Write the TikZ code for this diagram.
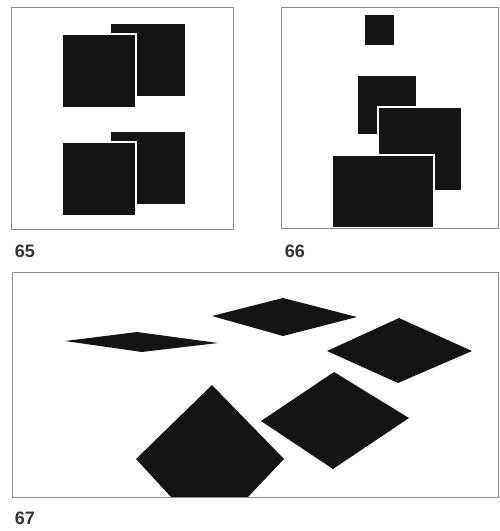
\documentclass[tikz,border=0pt]{standalone}
\usepackage{fontspec}
\setmainfont{Liberation Sans}
\definecolor{ink}{HTML}{141414}
\begin{document}
\begin{tikzpicture}[x=1pt,y=-1pt,
  frame/.style={draw=black!45,line width=0.9pt},
  blk/.style={fill=ink,draw=white,line width=1.2pt},
  lbl/.style={font=\bfseries\fontsize{18}{18}\selectfont,text=black!80,inner sep=0pt}]
\useasboundingbox (0,0) rectangle (499,531);
% panel 65
\draw[frame] (11,7) rectangle (233,229);
\fill[ink] (111,24) rectangle (185,96);
\draw[blk] (62,34) rectangle (136,108);
\fill[ink] (111,132) rectangle (185,204);
\draw[blk] (62,142) rectangle (136,216);
\node[lbl] (l65) at (25,251) {65};
% panel 66
\draw[frame] (281,7) -- (498,7) -- (498,228) -- (281,228) -- cycle;
\fill[ink] (365,15) rectangle (394,45);
\draw[blk] (357,75) rectangle (417,135);
\draw[blk] (378,107) rectangle (462,191);
\draw[blk] (332,155) rectangle (434,228);
\draw[frame] (281,228) -- (498,228);
\node[lbl] (l66) at (295,251) {66};
% panel 67
\begin{scope}
\clip (12,272) rectangle (498,497);
\fill[ink] (65,341) -- (137,332) -- (218,343) -- (142,352) -- cycle;
\fill[ink] (212,316) -- (283,298) -- (357,317) -- (283,336) -- cycle;
\fill[ink] (327,351) -- (399,318) -- (472,351) -- (398,383) -- cycle;
\fill[ink] (261,421) -- (334,372) -- (409,418) -- (333,469) -- cycle;
\fill[ink] (136,459) -- (212,385) -- (284,459) -- (248,497) -- (171,497) -- cycle;
\end{scope}
\draw[frame] (12,272) rectangle (498,497);
\node[lbl] (l67) at (25,518) {67};
\end{tikzpicture}
\end{document}
